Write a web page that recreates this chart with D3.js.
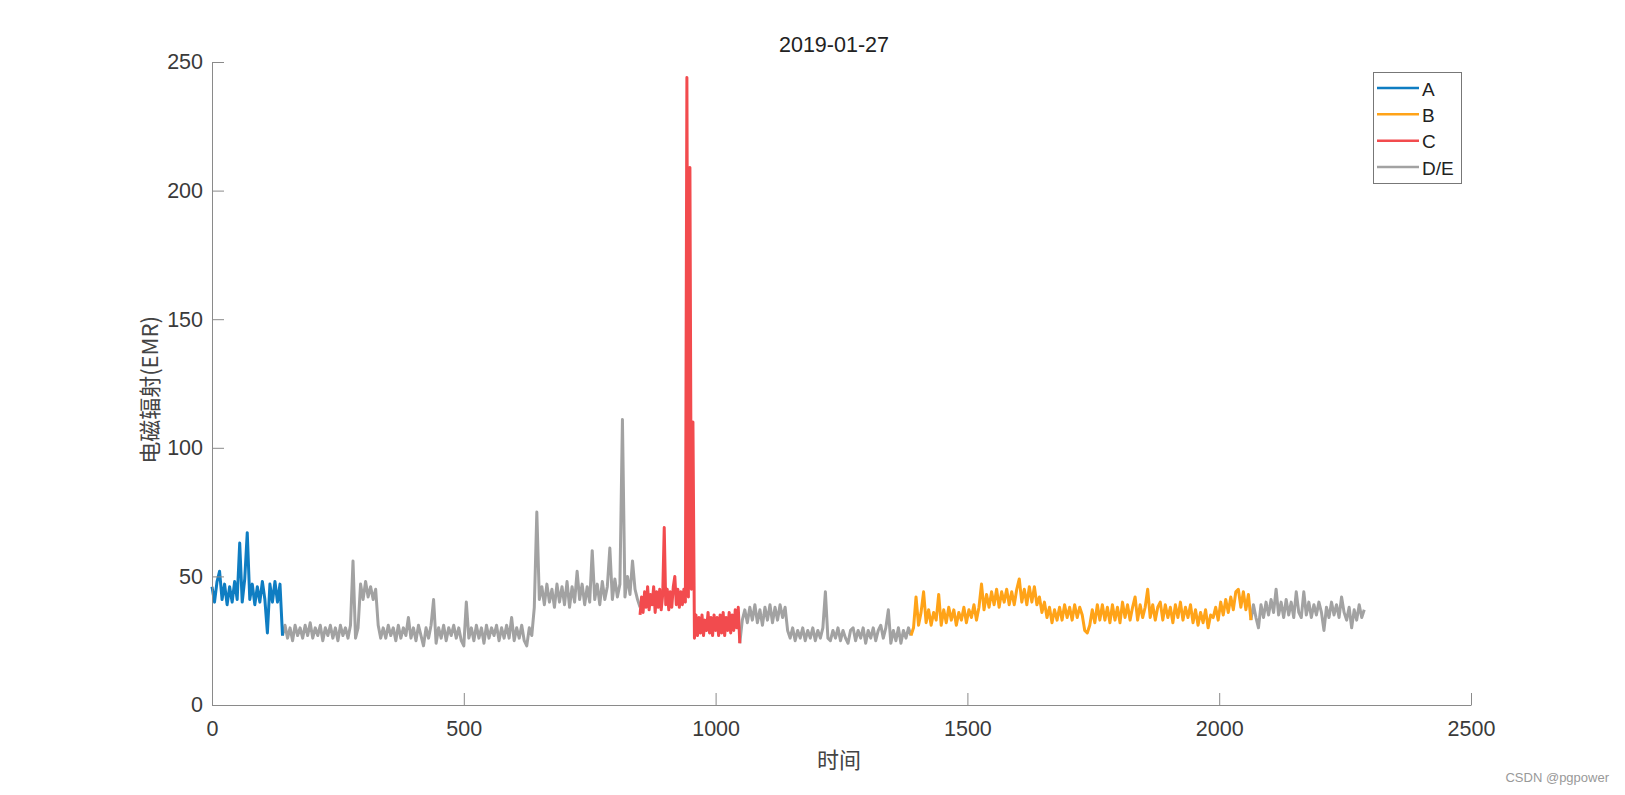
<!DOCTYPE html>
<html>
<head>
<meta charset="utf-8">
<script src="https://d3js.org/d3.v7.min.js"></script>
<style>
  body { margin: 0; background: #fff; }
  svg text { font-family: 'Liberation Sans', Arial, sans-serif; }
</style>
</head>
<body>
<svg></svg>
<script>
// 数据: 各段起点 + 步长
var aStart = 0, aStep = 5;
var aVals = [46, 40, 48, 52, 41, 47, 39, 46, 40, 48,
             41, 63, 40, 49, 67, 41, 47, 39, 46, 40,
             48, 41, 28, 47, 40, 48, 40, 47, 27];

var g1Start = 140, g1Step = 5;
var g1Vals = [27, 31, 26, 30, 25, 31, 27, 30, 26, 31,
              27, 32, 26, 30, 27, 31, 25, 30, 27, 31,
              26, 30, 25, 31, 27, 30, 26, 31, 56, 26,
              30, 47, 41, 48, 42, 46, 41, 45, 31, 26,
              30, 26, 31, 27, 30, 25, 31, 26, 30, 27,
              34, 26, 30, 25, 31, 27, 23, 30, 26, 31,
              41, 24, 30, 26, 31, 25, 30, 27, 31, 26,
              30, 25, 23, 40, 26, 30, 25, 31, 26, 30,
              24, 31, 26, 30, 27, 31, 25, 30, 26, 31,
              26, 34, 25, 30, 26, 31, 25, 23, 30, 27,
              38, 75, 41, 46, 39, 47, 40, 45, 38, 47,
              40, 46, 39, 48, 38, 46, 40, 52, 41, 47,
              39, 46, 40, 60, 41, 47, 39, 48, 41, 46,
              61, 41, 49, 42, 47, 111, 42, 50, 43, 56,
              45, 41, 38];

var cStart = 850, cStep = 3;
var cVals = [35, 42, 36, 44, 38, 46, 37, 43, 39, 46,
             36, 44, 38, 45, 37, 43, 69, 39, 45, 37,
             44, 38, 46, 50, 39, 45, 38, 44, 39, 45,
             40, 244, 42, 209, 45, 110, 26, 35, 27, 34,
             28, 35, 27, 33, 29, 36, 28, 34, 27, 35,
             29, 34, 27, 35, 28, 36, 27, 34, 29, 36,
             28, 35, 29, 37, 30, 38, 24];

var g2Start = 1048, g2Step = 5;
var g2Vals = [24, 33, 37, 32, 38, 33, 39, 32, 37, 31,
              38, 33, 39, 32, 38, 33, 39, 34, 38, 29,
              26, 30, 25, 29, 26, 30, 25, 29, 26, 30,
              25, 29, 26, 30, 44, 26, 25, 29, 26, 30,
              25, 29, 26, 24, 29, 30, 25, 29, 26, 30,
              24, 29, 26, 30, 25, 29, 31, 26, 30, 37,
              24, 29, 25, 30, 24, 29, 26, 30, 27];

var bStart = 1388, bStep = 5;
var bVals = [27, 30, 42, 31, 36, 44, 32, 37, 31, 36,
             33, 43, 31, 37, 32, 38, 33, 37, 31, 36,
             33, 38, 32, 37, 34, 39, 33, 38, 47, 37,
             43, 38, 44, 39, 45, 38, 44, 40, 45, 39,
             44, 39, 45, 49, 40, 45, 39, 46, 40, 46,
             39, 42, 36, 40, 34, 38, 32, 37, 33, 38,
             33, 39, 34, 38, 33, 39, 34, 38, 35, 29,
             28, 31, 37, 32, 39, 33, 39, 33, 38, 32,
             39, 33, 38, 32, 40, 34, 39, 33, 38, 42,
             33, 39, 34, 38, 45, 34, 39, 33, 38, 40,
             33, 39, 34, 38, 32, 39, 34, 40, 33, 38,
             34, 39, 32, 37, 31, 36, 32, 37, 30, 35,
             34, 38, 33, 40, 35, 41, 36, 42, 37, 44,
             45, 38, 44, 37, 43, 33];

var g3Start = 2063, g3Step = 5;
var g3Vals = [33, 39, 34, 30, 39, 34, 40, 35, 41, 36,
              45, 35, 40, 34, 41, 35, 40, 34, 44, 36,
              34, 44, 35, 40, 34, 39, 35, 40, 36, 29,
              38, 34, 40, 35, 39, 34, 42, 36, 33, 38,
              30, 37, 33, 39, 34, 37];

var legendNames = ['A', 'B', 'C', 'D/E'];
var xTicks = [0, 500, 1000, 1500, 2000, 2500];
var yTicks = [0, 50, 100, 150, 200, 250];

var colors = { A: '#0f7dc2', B: '#ffa318', C: '#f24b4e', 'D/E': '#a2a2a2' };

function toPoints(start, step, vals) {
  return vals.map((v, i) => [start + i * step, v]);
}

var segments = [
  { name: 'D/E', pts: toPoints(g1Start, g1Step, g1Vals) },
  { name: 'D/E', pts: toPoints(g2Start, g2Step, g2Vals) },
  { name: 'D/E', pts: toPoints(g3Start, g3Step, g3Vals) },
  { name: 'A', pts: toPoints(aStart, aStep, aVals) },
  { name: 'C', pts: toPoints(cStart, cStep, cVals) },
  { name: 'B', pts: toPoints(bStart, bStep, bVals) }
];

var svg = d3.select('svg').attr('width', 1625).attr('height', 795);

var x = d3.scaleLinear().domain([0, 2500]).range([212, 1471]);
var y = d3.scaleLinear().domain([0, 250]).range([705, 62]);

var line = d3.line().x(d => x(d[0])).y(d => y(d[1]));

svg.selectAll('path.series')
  .data(segments)
  .enter()
  .append('path')
    .attr('class', 'series')
    .attr('d', d => line(d.pts))
    .style('fill', 'none')
    .style('stroke', d => colors[d.name])
    .style('stroke-width', '3px')
    .style('stroke-linejoin', 'round');

// axes, ticks inward like matlab
var xAxis = d3.axisBottom(x).tickValues(xTicks).tickFormat(d3.format('d'))
  .tickSizeInner(-12).tickSizeOuter(0).tickPadding(16);
var yAxis = d3.axisLeft(y).tickValues(yTicks).tickFormat(d3.format('d'))
  .tickSizeInner(-12).tickSizeOuter(0).tickPadding(9);

var gx = svg.append('g').attr('transform', 'translate(0,705)').call(xAxis);
var gy = svg.append('g').attr('transform', 'translate(212,0)').call(yAxis);

[gx, gy].forEach(g => {
  g.select('.domain').style('stroke', '#8a8a8a');
  g.selectAll('.tick line').style('stroke', '#8a8a8a');
  g.selectAll('.tick text')
    .style('font-family', "'Liberation Sans', Arial, sans-serif")
    .style('font-size', '21.5px')
    .style('fill', '#3a3a3a');
});

svg.append('text')
  .attr('x', 834).attr('y', 52)
  .attr('text-anchor', 'middle')
  .style('font-size', '21.5px')
  .style('fill', '#222')
  .text('2019-01-27');

svg.append('text')
  .attr('x', 839).attr('y', 768)
  .attr('text-anchor', 'middle')
  .style('font-family', "'Noto Sans CJK SC', sans-serif")
  .style('font-size', '22px')
  .style('fill', '#444')
  .text('时间');

svg.append('text')
  .attr('transform', 'translate(158,390) rotate(-90)')
  .attr('text-anchor', 'middle')
  .style('font-family', "'Noto Sans CJK SC', sans-serif")
  .style('font-size', '22px')
  .style('fill', '#444')
  .text('电磁辐射(EMR)');

// legend
var lg = svg.append('g');
lg.append('rect')
  .attr('x', 1373.5).attr('y', 72.5)
  .attr('width', 88).attr('height', 111)
  .style('fill', '#fff')
  .style('stroke', '#777')
  .style('stroke-width', '1px');

var rowY = d3.scalePoint().domain(legendNames).range([88, 167]);

lg.selectAll('line')
  .data(legendNames)
  .enter()
  .append('line')
    .attr('x1', 1377).attr('x2', 1419)
    .attr('y1', d => rowY(d)).attr('y2', d => rowY(d))
    .style('stroke', d => colors[d])
    .style('stroke-width', '2.5px');

lg.selectAll('text')
  .data(legendNames)
  .enter()
  .append('text')
    .attr('x', 1422)
    .attr('y', d => rowY(d) + 7.5)
    .style('font-size', '19px')
    .style('fill', '#222')
    .text(d => d);

svg.append('text')
  .attr('x', 1609).attr('y', 782)
  .attr('text-anchor', 'end')
  .style('font-size', '13px')
  .style('fill', '#999')
  .text('CSDN @pgpower');
</script>
</body>
</html>
